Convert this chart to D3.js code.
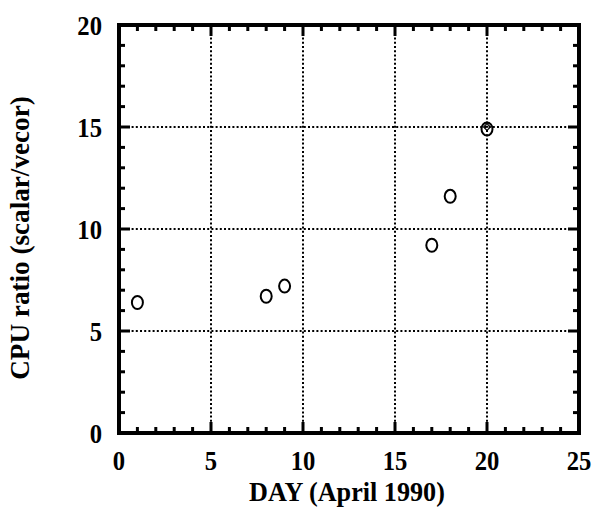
<!DOCTYPE html>
<html><head><meta charset="utf-8">
<script src="https://cdn.jsdelivr.net/npm/d3@7"></script>
<style>body{margin:0;background:#fff}svg{display:block}text{font-family:"Liberation Serif","Times New Roman",serif;font-weight:bold;fill:#000}</style>
</head><body>
<script>
const days = [1, 8, 9, 17, 18, 20];
const cpuRatio = [6.4, 6.7, 7.2, 9.2, 11.6, 14.9];
const diamondDays = [20];
const diamondRatio = [15.0];
const xTicks = [0, 5, 10, 15, 20, 25];
const yTicks = [0, 5, 10, 15, 20];
const xLabel = "DAY (April 1990)";
const yLabel = "CPU ratio (scalar/vecor)";

const W = 593, H = 507;
const svg = d3.select("body").append("svg").attr("width", W).attr("height", H);
const x = d3.scaleLinear().domain([0, 25]).range([119, 579]);
const y = d3.scaleLinear().domain([0, 20]).range([433, 25]);
const SX = 0.88;

// grid
const g = svg.append("g");
g.selectAll(".gx").data(xTicks.slice(1, -1)).join("line")
  .attr("x1", d => x(d)).attr("x2", d => x(d)).attr("y1", y(20)).attr("y2", y(0))
  .attr("stroke", "#000").attr("stroke-width", 2).attr("stroke-dasharray", "2,2.2");
g.selectAll(".gy").data(yTicks.slice(1, -1)).join("line")
  .attr("y1", d => y(d)).attr("y2", d => y(d)).attr("x1", x(0)).attr("x2", x(25))
  .attr("stroke", "#000").attr("stroke-width", 2).attr("stroke-dasharray", "2,2.2");

// minor / major ticks (inward) on all sides
const xMinor = d3.range(1, 25), yMinor = d3.range(1, 20);
const tk = svg.append("g").attr("stroke", "#000").attr("stroke-width", 3);
xMinor.forEach(d => {
  const len = d % 5 === 0 ? 11 : 6;
  tk.append("line").attr("x1", x(d)).attr("x2", x(d)).attr("y1", y(0)).attr("y2", y(0) - len);
  tk.append("line").attr("x1", x(d)).attr("x2", x(d)).attr("y1", y(20)).attr("y2", y(20) + len);
});
yMinor.forEach(d => {
  const len = d % 5 === 0 ? 11 : 6;
  tk.append("line").attr("y1", y(d)).attr("y2", y(d)).attr("x1", x(0)).attr("x2", x(0) + len);
  tk.append("line").attr("y1", y(d)).attr("y2", y(d)).attr("x1", x(25)).attr("x2", x(25) - len);
});

// frame
svg.append("rect").attr("x", x(0)).attr("y", y(20)).attr("width", x(25) - x(0)).attr("height", y(0) - y(20))
  .attr("fill", "none").attr("stroke", "#000").attr("stroke-width", 4);

// tick labels
svg.append("g").selectAll("text").data(xTicks).join("text")
  .attr("transform", d => `translate(${x(d)},470) scale(${SX},1)`)
  .attr("text-anchor", "middle").attr("font-size", 28).text(d => d3.format("d")(d));
svg.append("g").selectAll("text").data(yTicks).join("text")
  .attr("transform", d => `translate(102,${y(d) + 10}) scale(${SX},1)`)
  .attr("text-anchor", "end").attr("font-size", 28).text(d => d3.format("d")(d));

svg.append("text").attr("transform", `translate(347,501) scale(0.97,1)`).attr("text-anchor", "middle").attr("font-size", 27).text(xLabel);
svg.append("text").attr("transform", `translate(29,238) rotate(-90) scale(0.97,1)`).attr("text-anchor", "middle").attr("font-size", 28).text(yLabel);

// points
svg.append("g").selectAll("ellipse").data(days.map((d, i) => [d, cpuRatio[i]])).join("ellipse")
  .attr("cx", d => x(d[0])).attr("cy", d => y(d[1])).attr("rx", 5.5).attr("ry", 6.5)
  .attr("fill", "none").attr("stroke", "#000").attr("stroke-width", 2);
svg.append("g").selectAll("path").data(diamondDays.map((d, i) => [d, diamondRatio[i]])).join("path")
  .attr("transform", d => `translate(${x(d[0])},${y(d[1])})`)
  .attr("d", d3.symbol(d3.symbolDiamond2, 30))
  .attr("fill", "none").attr("stroke", "#000").attr("stroke-width", 1.2);
</script>
</body></html>
